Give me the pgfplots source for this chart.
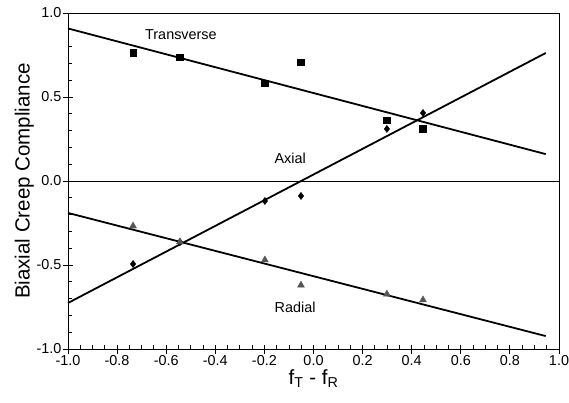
\documentclass[border=0pt]{standalone}
\usepackage{fontspec}
\setmainfont{Liberation Sans}
\usepackage{pgfplots}
\pgfplotsset{compat=1.18}
\definecolor{radgray}{RGB}{85,85,85}

\begin{document}
\begin{tikzpicture}
\begin{axis}[
  name=main,
  scale only axis, width=491pt, height=336pt,
  xmin=-1, xmax=1, ymin=-1, ymax=1,
  axis line style={line width=0.9pt},
  tick align=inside, tick style={black, line width=0.9pt},
  xtick={-1,-0.8,-0.6,-0.4,-0.2,0,0.2,0.4,0.6,0.8,1},
  xticklabels={-1.0,-0.8,-0.6,-0.4,-0.2,0.0,0.2,0.4,0.6,0.8,1.0},
  ytick={-1,-0.5,0,0.5,1},
  yticklabels={-1.0,-0.5,0.0,0.5,1.0},
  minor x tick num=3, minor y tick num=4,
  major tick length=9pt, minor tick length=4pt,
  major x tick style={yshift=-4.5pt},
  major y tick style={xshift=-4.5pt},
  xtick pos=bottom, ytick pos=left,
  tick label style={font=\fontsize{14.4}{16}\selectfont},
  xticklabel style={yshift=-3pt},
  yticklabel style={xshift=-3pt},
  label style={font=\fontsize{20.5}{24}\selectfont},
  xlabel={f\textsubscript{T} - f\textsubscript{R}},
  ylabel={Biaxial Creep Compliance},
  xlabel style={yshift=3pt},
  ylabel style={yshift=-4pt},
  clip=false,
]
% zero line
\addplot[black, line width=0.9pt] coordinates {(-1,0) (1,0)};
% fitted lines
\addplot[black, line width=1.8pt] coordinates {(-1,0.908) (0.946,0.16)};
\addplot[black, line width=1.8pt] coordinates {(-1,-0.726) (0.946,0.762)};
\addplot[black, line width=1.8pt] coordinates {(-1,-0.19) (0.946,-0.923)};
% transverse
\addplot[only marks, mark=square*, mark size=3.3pt, black] coordinates {
  (-0.735,0.762) (-0.544,0.738) (-0.198,0.583) (-0.051,0.708) (0.299,0.363) (0.446,0.31)};
% axial
\addplot[only marks, mark=diamond*, mark size=3.6pt, black] coordinates {
  (-0.735,-0.494) (-0.544,-0.363) (-0.198,-0.119) (-0.051,-0.089) (0.299,0.31) (0.446,0.405)};
% radial
\addplot[only marks, mark=triangle*, mark size=4pt, radgray, draw=radgray] coordinates {
  (-0.735,-0.268) (-0.544,-0.363) (-0.198,-0.47) (-0.051,-0.62) (0.299,-0.673) (0.446,-0.708)};
\node[font=\fontsize{14.4}{16}\selectfont] at (axis cs:-0.54,0.874) {Transverse};
\node[font=\fontsize{14.4}{16}\selectfont] at (axis cs:-0.095,0.137) {Axial};
\node[font=\fontsize{14.4}{16}\selectfont] at (axis cs:-0.075,-0.75) {Radial};
\end{axis}
\pgfresetboundingbox
\path ([xshift=-68pt,yshift=-53pt]main.south west) rectangle ([xshift=10pt,yshift=13pt]main.north east);
\end{tikzpicture}
\end{document}
